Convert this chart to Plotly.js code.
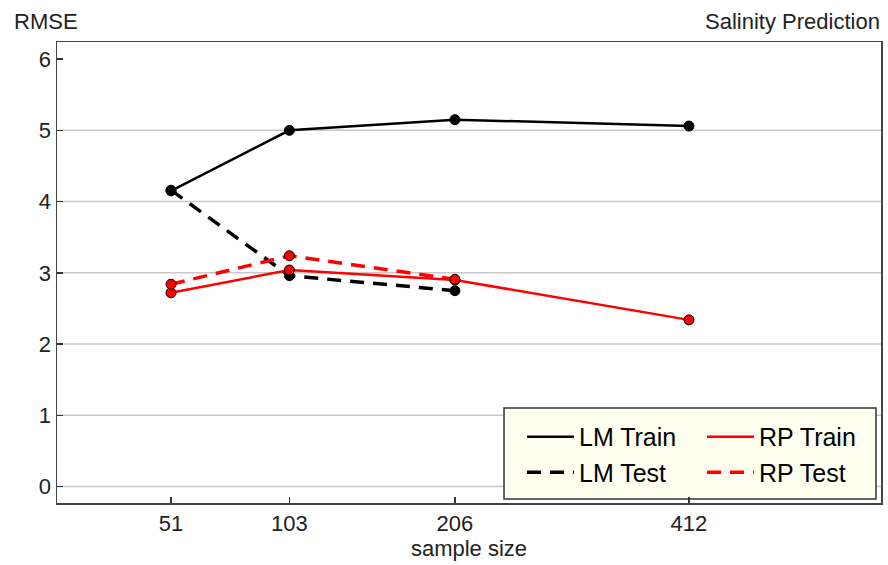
<!DOCTYPE html>
<html><head><meta charset="utf-8">
<script src="https://cdn.plot.ly/plotly-3.0.1.min.js"></script>
<style>html,body{margin:0;padding:0;background:#fff}#chart{width:888px;height:565px}</style>
</head><body><div id="chart"></div>
<script>
const sampleSizes = [51, 103, 206, 412];
const lmTrain = [4.15, 5.00, 5.15, 5.06];
const lmTest  = [4.16, 2.96, 2.75, null];
const rpTrain = [2.72, 3.04, 2.90, 2.34];
const rpTest  = [2.84, 3.24, 2.91, null];
const yTicks = [0, 1, 2, 3, 4, 5, 6];
const gridTicks = [0, 1, 2, 3, 4, 5];

const xs = sampleSizes.map(Math.sqrt);
const FONT = '"Liberation Sans", Arial, sans-serif';
const DASH = '14px,9px';

function lineTrace(name, y, color, dash, width, legend) {
  return {x: xs, y: y, name: name, type: 'scatter', mode: 'lines', legend: legend,
    line: {color: color, dash: dash, width: width}, connectgaps: false, hoverinfo: 'skip'};
}
function markerTrace(y, color) {
  return {x: xs, y: y, type: 'scatter', mode: 'markers', showlegend: false,
    marker: {color: color, size: 10, line: {color: '#000', width: 1}}, hoverinfo: 'skip'};
}
const data = [
  lineTrace('LM Train', lmTrain, '#000', 'solid', 2.5, 'legend'),
  lineTrace('LM Test', lmTest, '#000', DASH, 3.5, 'legend'),
  lineTrace('RP Train', rpTrain, '#ff0000', 'solid', 2.5, 'legend2'),
  lineTrace('RP Test', rpTest, '#ff0000', DASH, 3.5, 'legend2'),
  markerTrace(lmTrain, '#000'),
  markerTrace(lmTest, '#000'),
  markerTrace(rpTrain, '#ff0000'),
  markerTrace(rpTest, '#ff0000')
];
const shapes = gridTicks.map(v => ({type: 'line', xref: 'paper', x0: 0, x1: 1, yref: 'y', y0: v, y1: v,
  layer: 'below', line: {color: '#c8c8c8', width: 1.5}}));
shapes.push({type: 'rect', xref: 'paper', yref: 'paper', x0: 0.5425, x1: 0.9939, y0: 0.0087, y1: 0.2061,
  layer: 'below', fillcolor: '#fffff0', line: {color: '#333', width: 1.5}});

const legendCommon = {orientation: 'v', yanchor: 'top', xanchor: 'left', bgcolor: 'rgba(0,0,0,0)',
  borderwidth: 0, font: {size: 25, color: '#000'}, itemwidth: 47, traceorder: 'normal'};
const layout = {
  width: 888, height: 565,
  margin: {l: 57, r: 7, t: 42, b: 62},
  paper_bgcolor: '#fff', plot_bgcolor: 'rgba(0,0,0,0)',
  font: {family: FONT, color: '#222'},
  showlegend: true,
  xaxis: {range: [4.246, 25.175], tickvals: xs, ticktext: sampleSizes.map(String),
    ticks: 'inside', ticklen: 6, tickcolor: '#333', tickwidth: 1.5,
    showline: true, mirror: true, linecolor: '#444', linewidth: 1.5,
    showgrid: false, zeroline: false, tickfont: {size: 22, color: '#222'},
    title: {text: 'sample size', font: {size: 22, color: '#222'}, standoff: 4}},
  yaxis: {range: [-0.23, 6.24], tickvals: yTicks,
    ticks: 'inside', ticklen: 6, tickcolor: '#333', tickwidth: 1.5,
    showgrid: false, zeroline: false,
    showline: true, mirror: true, linecolor: '#444', linewidth: 1.5,
    tickfont: {size: 22, color: '#222'}},
  legend: Object.assign({x: 0.5643, y: 0.1931}, legendCommon),
  legend2: Object.assign({x: 0.7828, y: 0.1931}, legendCommon),
  shapes: shapes,
  annotations: [
    {text: 'RMSE', xref: 'paper', yref: 'paper', x: -0.0546, y: 1.0434,
      xanchor: 'left', yanchor: 'middle', showarrow: false, font: {size: 22, color: '#222'}},
    {text: 'Salinity Prediction', xref: 'paper', yref: 'paper', x: 1.001, y: 1.0434,
      xanchor: 'right', yanchor: 'middle', showarrow: false, font: {size: 22, color: '#222'}}
  ]
};
Plotly.newPlot('chart', data, layout, {displayModeBar: false, staticPlot: true});
</script></body></html>
